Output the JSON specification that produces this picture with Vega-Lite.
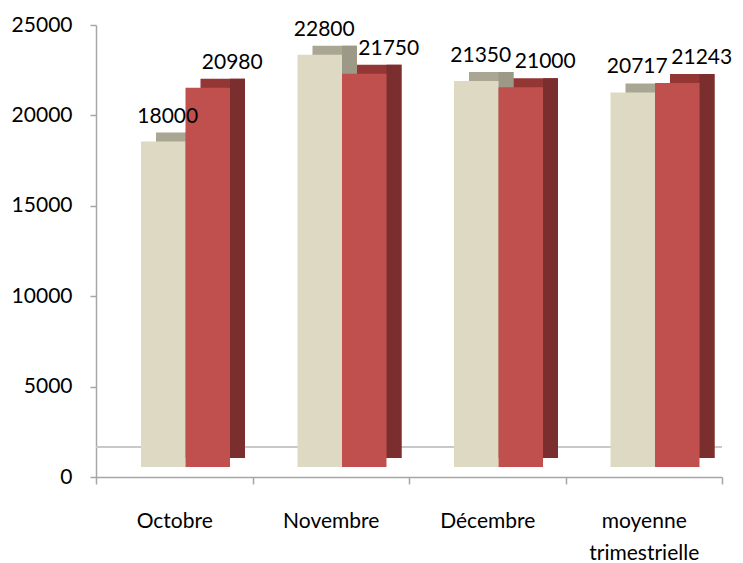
{
  "$schema": "https://vega.github.io/schema/vega-lite/v6.json",
  "autosize": {"type": "none"},
  "padding": {"left": 96, "top": 25, "right": 21, "bottom": 86},
  "width": 626,
  "height": 452,
  "background": "white",
  "config": {
    "view": {"stroke": null},
    "font": "Lato",
    "axis": {"labelFont": "Lato", "labelFontSize": 21, "labelColor": "#000000", "domainColor": "#A6A6A6", "tickColor": "#A6A6A6", "domainWidth": 1.5, "tickWidth": 1.5}
  },
  "data": {
    "values": [
      {"mois": "Octobre", "serie": "série 1", "valeur": 18000},
      {"mois": "Octobre", "serie": "série 2", "valeur": 20980},
      {"mois": "Novembre", "serie": "série 1", "valeur": 22800},
      {"mois": "Novembre", "serie": "série 2", "valeur": 21750},
      {"mois": "Décembre", "serie": "série 1", "valeur": 21350},
      {"mois": "Décembre", "serie": "série 2", "valeur": 21000},
      {"mois": "moyenne trimestrielle", "serie": "série 1", "valeur": 20717},
      {"mois": "moyenne trimestrielle", "serie": "série 2", "valeur": 21243}
    ]
  },
  "encoding": {
    "x": {
      "field": "mois", "type": "nominal", "sort": null,
      "scale": {"paddingInner": 0, "paddingOuter": 0},
      "axis": {"title": null, "labelAngle": 0, "tickBand": "extent", "tickSize": 7, "labelPadding": 26, "labelBaseline": "top", "labelLineHeight": 32, "labelExpr": "isValid(datum.value) ? split(datum.value, ' ') : ''"}
    },
    "y": {
      "field": "valeur", "type": "quantitative",
      "scale": {"domain": [0, 25000], "nice": false},
      "axis": {"title": null, "grid": false, "values": [0, 5000, 10000, 15000, 20000, 25000], "tickSize": 6, "labelPadding": 18, "format": "d"}
    }
  },
  "layer": [
    {
      "mark": {"type": "rule", "yOffset": -30, "color": "#C8C8C8", "strokeWidth": 1.5},
      "encoding": {"x": null, "y": {"datum": 0}}
    },
    {
      "transform": [{"filter": "datum.serie == 'série 1'"}],
      "mark": {"type": "bar", "color": "#A9A693", "width": 44.5, "xOffset": 4, "x2Offset": 4, "yOffset": -19, "y2Offset": -19}
    },
    {
      "transform": [{"filter": "datum.serie == 'série 1'"}],
      "mark": {"type": "bar", "color": "#9C9A87", "width": 15, "xOffset": 18.75, "x2Offset": 18.75, "yOffset": -19, "y2Offset": -19}
    },
    {
      "transform": [{"filter": "datum.serie == 'série 2'"}],
      "mark": {"type": "bar", "color": "#943634", "width": 44.5, "xOffset": 48.5, "x2Offset": 48.5, "yOffset": -19, "y2Offset": -19}
    },
    {
      "transform": [{"filter": "datum.serie == 'série 2'"}],
      "mark": {"type": "bar", "color": "#7A2E2D", "width": 15, "xOffset": 63.25, "x2Offset": 63.25, "yOffset": -19, "y2Offset": -19}
    },
    {
      "transform": [{"filter": "datum.serie == 'série 1'"}],
      "mark": {"type": "bar", "color": "#DDD9C3", "width": 44.5, "xOffset": -11, "x2Offset": -11, "yOffset": -10, "y2Offset": -10}
    },
    {
      "transform": [{"filter": "datum.serie == 'série 2'"}],
      "mark": {"type": "bar", "color": "#C0504D", "width": 44.5, "xOffset": 33.5, "x2Offset": 33.5, "yOffset": -10, "y2Offset": -10}
    },
    {
      "transform": [{"filter": "datum.serie == 'série 1'"}],
      "mark": {"type": "text", "fontSize": 21, "font": "Lato", "baseline": "alphabetic", "dx": -6.5, "dy": -29, "color": "#000000"},
      "encoding": {"text": {"field": "valeur", "type": "quantitative", "format": "d"}}
    },
    {
      "transform": [{"filter": "datum.serie == 'série 2'"}],
      "mark": {"type": "text", "fontSize": 21, "font": "Lato", "baseline": "alphabetic", "dx": 58, "dy": -29, "color": "#000000"},
      "encoding": {"text": {"field": "valeur", "type": "quantitative", "format": "d"}}
    }
  ]
}
